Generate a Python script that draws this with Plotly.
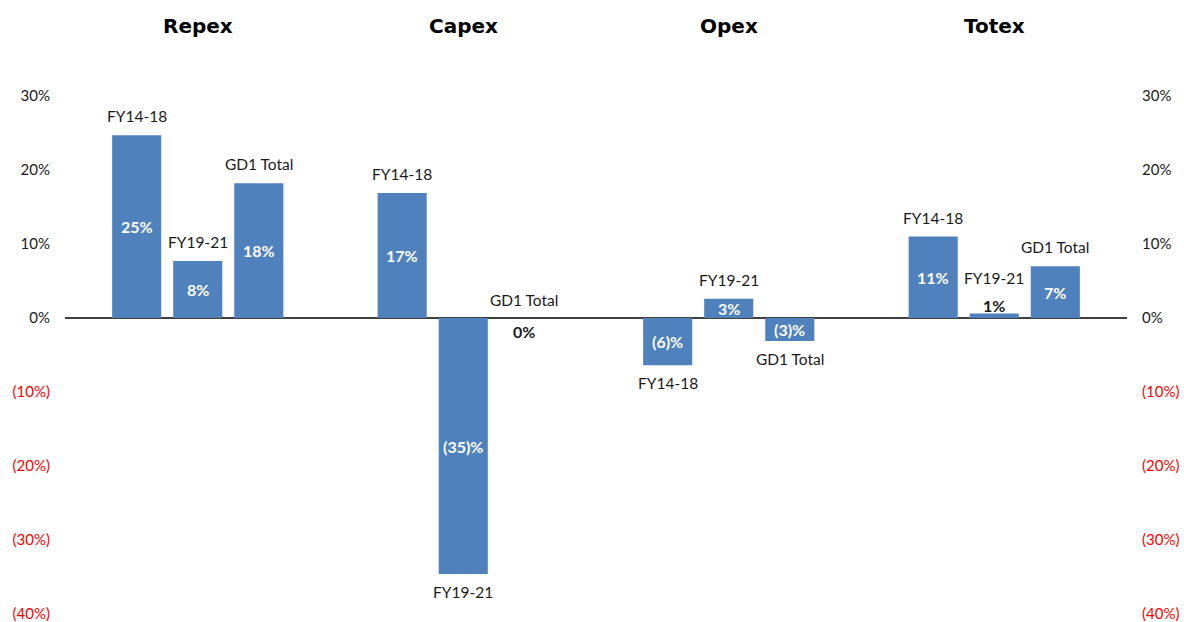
import plotly.graph_objects as go

groups = ["Repex", "Capex", "Opex", "Totex"]
periods = ["FY14-18", "FY19-21", "GD1 Total"]
fy14_18 = [24.7, 16.9, -6.4, 11.0]
fy19_21 = [7.7, -34.6, 2.6, 0.6]
gd1_total = [18.2, 0.0, -3.1, 7.0]
series = [fy14_18, fy19_21, gd1_total]

tick_vals = [30, 20, 10, 0, -10, -20, -30, -40]
tick_text = ["30%", "20%", "10%", "0%", "(10%)", "(20%)", "(30%)", "(40%)"]

BLUE = "#4F81BD"
LBL_FONT = "Lato, Calibri, sans-serif"
slot = 0.23

def fmt(v):
    r = int(round(v))
    return f"({abs(r)})%" if r < 0 else f"{r}%"

fig = go.Figure()
for name, vals in zip(periods, series):
    fig.add_trace(go.Bar(x=groups, y=vals, name=name, marker=dict(color=BLUE, line=dict(width=0)),
                         hoverinfo="x+y"))
# invisible companion trace so the right-hand axis is drawn
fig.add_trace(go.Scatter(x=groups, y=fy14_18, yaxis="y2", mode="markers",
                         marker=dict(opacity=0), hoverinfo="skip", showlegend=False))

annotations = []
for i, (name, vals) in enumerate(zip(periods, series)):
    for g, v in enumerate(vals):
        x = g + (i - 1) * slot
        if abs(v) >= 2:
            annotations.append(dict(x=x, y=v / 2, text=f"<b>{fmt(v)}</b>", showarrow=False,
                                    font=dict(family=LBL_FONT, size=16, color="white")))
            annotations.append(dict(x=x, y=v, text=name, showarrow=False, yshift=19 if v > 0 else -18,
                                    font=dict(family=LBL_FONT, size=15.5, color="#1a1a1a")))
        elif v > 0:
            annotations.append(dict(x=x, y=v, text=f"<b>{fmt(v)}</b>", showarrow=False, yshift=8,
                                    font=dict(family=LBL_FONT, size=16, color="#1a1a1a")))
            annotations.append(dict(x=x, y=v, text=name, showarrow=False, yshift=36,
                                    font=dict(family=LBL_FONT, size=15.5, color="#1a1a1a")))
        else:
            annotations.append(dict(x=x, y=v, text=f"<b>{fmt(v)}</b>", showarrow=False, yshift=-13,
                                    font=dict(family=LBL_FONT, size=16, color="#1a1a1a")))
            annotations.append(dict(x=x, y=v, text=name, showarrow=False, yshift=18,
                                    font=dict(family=LBL_FONT, size=15.5, color="#1a1a1a")))

for g, name in enumerate(groups):
    annotations.append(dict(x=g, y=1, xref="x", yref="paper", yanchor="middle", yshift=70,
                            text=f"<b>{name}</b>", showarrow=False,
                            font=dict(family="DejaVu Sans", size=20, color="black")))

ticktext_col = [t if v >= 0 else f'<span style="color:#ff0000">{t}</span>' for v, t in zip(tick_vals, tick_text)]

axis_common = dict(range=[-40, 30], tickvals=tick_vals, ticktext=ticktext_col, showgrid=False,
                   ticks="", tickfont=dict(family=LBL_FONT, size=15, color="#1a1a1a"),
                   fixedrange=True, ticklabelstandoff=14, automargin=False,
                   ticklabeloverflow="allow")

fig.update_layout(
    width=1184, height=622,
    margin=dict(l=65, r=57, t=96, b=8, autoexpand=False),
    paper_bgcolor="white", plot_bgcolor="white",
    barmode="group", bargap=0.31, bargroupgap=0.196,
    showlegend=False,
    xaxis=dict(range=[-0.5, 3.5], showticklabels=False, showgrid=False, zeroline=False, ticks="",
               automargin=False),
    yaxis=dict(**axis_common, zeroline=True, zerolinecolor="#404040", zerolinewidth=1.5),
    yaxis2=dict(**axis_common, overlaying="y", side="right", zeroline=False),
    annotations=annotations,
)
fig.write_html("out.html")
